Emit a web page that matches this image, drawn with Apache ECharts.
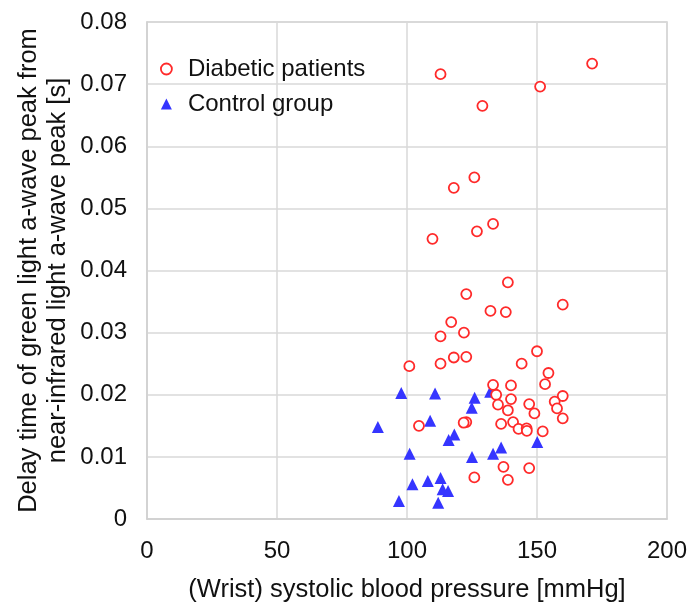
<!DOCTYPE html>
<html><head><meta charset="utf-8">
<script src="https://cdn.jsdelivr.net/npm/echarts@6/dist/echarts.min.js"></script>
<style>html,body{margin:0;padding:0;background:#fff}#c{width:691px;height:608px}</style>
</head><body><div id="c"></div>
<script>
const diabeticX = [112.9,171.2,151.2,129.0,125.9,118.0,133.1,126.9,109.8,
  138.8,122.8,159.9,132.1,138.0,117.0,121.9,112.9,150.0,118.0,122.8,144.1,112.9,100.9,154.4,153.1,133.1,140.0,
  134.3,140.0,159.9,156.8,135.0,147.0,157.7,138.8,149.0,159.9,122.8,121.8,140.8,104.6,136.2,142.9,146.0,146.1,152.2,
  137.1,147.0,125.9,138.8];
const diabeticY = [0.0716,0.0733,0.0696,0.0665,0.0550,0.0533,0.0475,0.0463,0.0451,
  0.0381,0.0362,0.0345,0.0335,0.0333,0.0317,0.0300,0.0294,0.0270,0.0260,0.0261,0.0250,0.0250,0.0246,0.0235,0.0217,0.0216,0.0215,
  0.0200,0.0193,0.0198,0.0189,0.0184,0.0185,0.0178,0.0175,0.0170,0.0162,0.0156,0.0155,0.0156,0.0150,0.0153,0.0145,0.0146,0.0142,0.0141,
  0.0084,0.0082,0.0067,0.0063];
const controlX = [88.8,97.8,110.8,126.0,132.0,124.9,108.9,118.2,116.0,150.1,136.2,133.1,101.0,125.0,112.9,108.0,102.1,113.7,115.8,96.9,112.0];
const controlY = [0.0148,0.0203,0.0202,0.0195,0.0205,0.0179,0.0158,0.0136,0.0127,0.0124,0.0115,0.0105,0.0105,0.0100,0.0066,0.0061,0.0056,0.0048,0.0045,0.0029,0.0026];
const xTicks = {min:0, max:200, interval:50};
const yTicks = {min:0, max:0.08, interval:0.01};
const seriesNames = ['Diabetic patients','Control group'];

const font = 'Liberation Sans, Arial, sans-serif';
const red = '#ff2a2a', blue = '#3535ff';
const chart = echarts.init(document.getElementById('c'));
const zip = (a,b)=>a.map((v,i)=>[v,b[i]]);
chart.setOption({
  animation:false,
  grid:{left:147,right:24,top:22,bottom:88,show:true,borderColor:'#d0d0d0',borderWidth:1.5},
  legend:{
    orient:'vertical', left:155, top:52, itemGap:11, itemWidth:11, itemHeight:11,
    textStyle:{fontFamily:font,fontSize:24,color:'#111',padding:[0,0,0,11]},
    data:[{name:seriesNames[0],icon:'circle',itemStyle:{color:'#fff',borderColor:red,borderWidth:1.8,opacity:1}},
          {name:seriesNames[1],icon:'triangle',itemStyle:{color:blue,opacity:1}}]
  },
  xAxis:{type:'value',min:xTicks.min,max:xTicks.max,interval:xTicks.interval,
    name:'(Wrist) systolic blood pressure [mmHg]',nameLocation:'middle',nameGap:58,
    nameTextStyle:{fontFamily:font,fontSize:25.5,color:'#111'},
    axisLine:{show:true,lineStyle:{color:'#d0d0d0',width:1.5}},axisTick:{show:false},
    axisLabel:{fontFamily:font,fontSize:24,color:'#111',margin:20},
    splitLine:{show:true,lineStyle:{color:'#d9d9d9',width:1.5}}},
  yAxis:{type:'value',min:yTicks.min,max:yTicks.max,interval:yTicks.interval,
    name:'Delay time of green light a-wave peak from\nnear-infrared light a-wave peak [s]',
    nameLocation:'middle',nameGap:75,nameMoveOverlap:false,
    nameTextStyle:{fontFamily:font,fontSize:25.5,color:'#111',lineHeight:29},
    axisLine:{show:true,lineStyle:{color:'#d0d0d0',width:1.5}},axisTick:{show:false},
    axisLabel:{fontFamily:font,fontSize:24,color:'#111',margin:20},
    splitLine:{show:true,lineStyle:{color:'#d9d9d9',width:1.5}}},
  series:[
    {name:seriesNames[0],type:'scatter',symbol:'circle',symbolSize:10,
     itemStyle:{color:'#fff',borderColor:red,borderWidth:1.8,opacity:1},
     data:zip(diabeticX,diabeticY),z:3},
    {name:seriesNames[1],type:'scatter',symbol:'triangle',symbolSize:[12,12],
     itemStyle:{color:blue,opacity:1},
     data:zip(controlX,controlY),z:2}
  ]
});
</script></body></html>
